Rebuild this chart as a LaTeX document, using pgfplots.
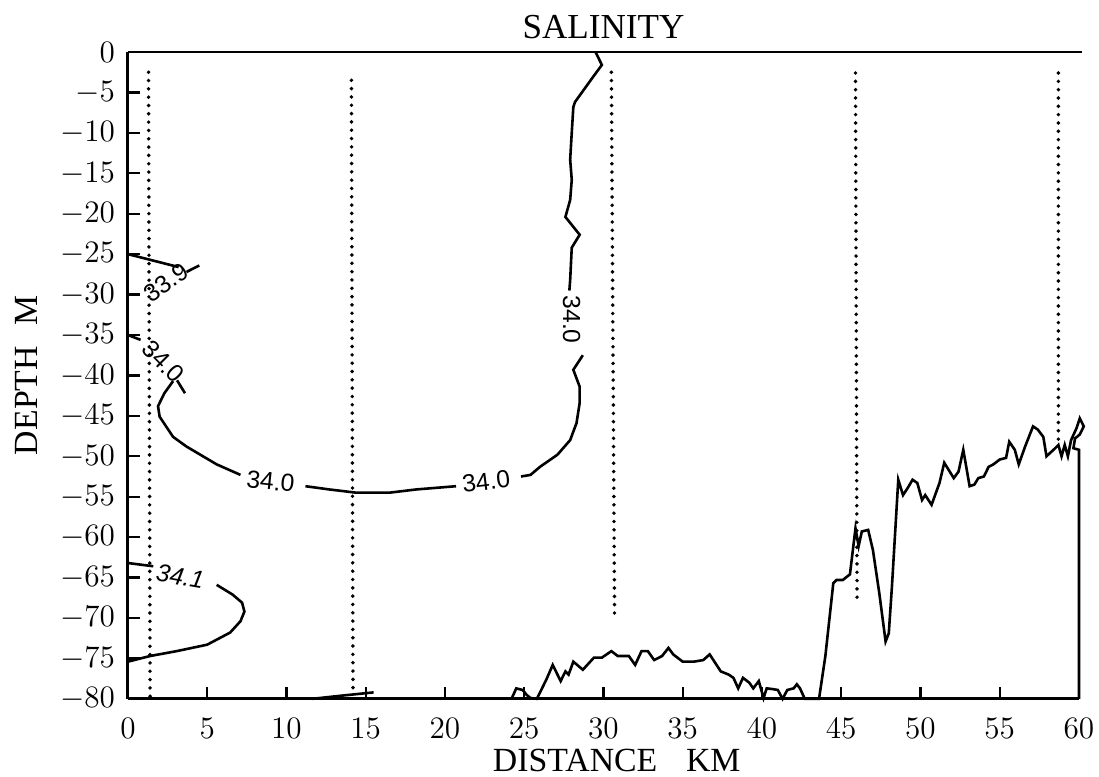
\documentclass[border=0pt]{standalone}
\usepackage{fontspec}
\setmainfont{Liberation Serif}
\newfontfamily\clabfont{Liberation Sans}
\usepackage{pgfplots}
\pgfplotsset{compat=1.18}

\tikzset{clab/.style={font=\clabfont\fontsize{9.5}{11}\selectfont, inner sep=0pt}}

\begin{document}
\begin{tikzpicture}
\path[use as bounding box] (-49.2pt,-30pt) rectangle (373.5pt,268.8pt);
\begin{axis}[
  scale only axis, width=365.8pt, height=248.8pt,
  xmin=0, xmax=60, ymin=-80, ymax=0,
  axis lines=left, axis line style={-, line width=1.1pt},
  clip=false,
  xtick={0,5,...,60}, ytick={-80,-75,...,0},
  tick align=inside, major tick length=4.6pt,
  tick style={line width=0.9pt, black},
  tick label style={font=\fontsize{11.5}{13}\selectfont},
  xticklabel style={yshift=-6.5pt, inner sep=1pt},
  yticklabel style={xshift=-1.5pt},
  title={SALINITY},
  title style={at={(axis description cs:0.5,0.9968)}, anchor=base, font=\fontsize{13.5}{16}\selectfont},
  xlabel={DISTANCE\hspace{0.85em}KM},
  xlabel style={at={(axis description cs:0.514,-0.1125)}, anchor=base, inner sep=1pt, font=\fontsize{13}{15}\selectfont},
  ylabel={DEPTH\hspace{0.6em}M},
  ylabel style={at={(axis description cs:-0.0946,0.5)}, anchor=base, rotate=0, font=\fontsize{13}{15}\selectfont},
]
% top frame line
\draw[line width=1.1pt] (axis cs:0,0) -- (axis cs:60.2,0);

% station lines
\addplot[black, line width=1.5pt, line cap=round, dash pattern=on 0pt off 3.2pt] coordinates {(1.3,-2.5) (1.4,-80)};
\addplot[black, line width=1.5pt, line cap=round, dash pattern=on 0pt off 3.2pt] coordinates {(14.1,-3.5) (14.2,-79)};
\addplot[black, line width=1.5pt, line cap=round, dash pattern=on 0pt off 3.2pt] coordinates {(30.5,-2.5) (30.7,-69.6)};
\addplot[black, line width=1.5pt, line cap=round, dash pattern=on 0pt off 3.2pt] coordinates {(45.9,-2.6) (46.0,-67.7)};
\addplot[black, line width=1.5pt, line cap=round, dash pattern=on 0pt off 3.2pt] coordinates {(58.7,-2.6) (58.7,-48)};

% 34.0 contour
\addplot[black, line width=1pt] coordinates {
(29.5,0) (29.9,-1.6) (29.3,-3.2) (28.2,-6.2) (28.1,-6.8) (28.0,-10) (27.9,-13.3)
(28.0,-15.8) (27.9,-18.3) (27.6,-20.4) (28.5,-22.6) (28.0,-24.2) (27.9,-28.2) (27.85,-29.5)};
\addplot[black, line width=1pt] coordinates {
(28.7,-37.5) (28.1,-39.3) (28.5,-41.4) (28.5,-43.4) (28.3,-45.9) (27.9,-48) (27.1,-49.8)
(26.0,-51.3) (25.4,-52.3) (24.8,-52.5)};
\addplot[black, line width=1pt] coordinates {
(20.7,-53.7) (18.2,-54.1) (16.5,-54.5) (14.4,-54.5) (12.7,-54.1) (11.2,-53.7)};
\addplot[black, line width=1pt] coordinates {
(7.1,-52.3) (5.6,-51.0) (3.7,-48.8) (2.85,-47.6) (2.0,-45.1) (1.9,-43.8) (2.3,-42.2) (2.85,-40.7)};
\addplot[black, line width=1pt] coordinates {(3.1,-40.6) (3.6,-42.2)};
\addplot[black, line width=1pt] coordinates {(0,-35.0) (0.8,-35.6)};

% 33.9 contour
\addplot[black, line width=1pt] coordinates {(0,-25.0) (1.6,-25.8) (3.2,-26.6)};
\addplot[black, line width=1pt] coordinates {(3.7,-27.2) (4.5,-26.4)};

% 34.1 contour
\addplot[black, line width=1pt] coordinates {(0,-63.2) (1.6,-63.6)};
\addplot[black, line width=1pt] coordinates {
(5.6,-65.9) (6.6,-67.1) (7.2,-68.1) (7.35,-69.2) (7.1,-70.4) (6.45,-71.8) (5.0,-73.3)
(3.07,-74.1) (1.4,-74.7) (0,-75.4)};

% contour near bottom
\addplot[black, line width=1pt] coordinates {(11.6,-80) (13.5,-79.6) (15.5,-79.2)};

% bottom profile
\addplot[black, line width=1pt] coordinates {
(24.2,-80) (24.5,-78.7) (24.9,-78.9) (25.15,-79.5) (25.4,-79.9) (25.8,-80)
(26.4,-77.6) (26.8,-75.8) (27.3,-77.8) (27.6,-76.6) (27.8,-77) (28.1,-75.4) (28.7,-76.4)
(29.4,-74.9) (29.9,-74.9) (30.5,-74.1) (30.9,-74.7) (31.6,-74.7) (32.0,-75.8) (32.4,-74.1)
(32.8,-74.1) (33.2,-75.2) (33.7,-74.7) (34.1,-73.7) (34.4,-74.5) (35.0,-75.4) (35.7,-75.4)
(36.3,-75.2) (36.7,-74.5) (37.0,-75.4) (37.4,-76.6) (37.9,-77.0) (38.2,-77.4) (38.5,-78.7)
(38.8,-77.4) (39.2,-78.0) (39.45,-78.7) (39.8,-77.8) (40.1,-79.9) (40.3,-78.7) (40.7,-78.8)
(41.0,-78.9) (41.3,-80) (41.6,-78.9) (42.0,-78.7) (42.2,-78.2) (42.4,-78.7) (42.7,-80)
(43.6,-80) (44.0,-74.7) (44.5,-65.7) (44.7,-65.3) (45.1,-65.3) (45.55,-64.6) (45.9,-58.9)
(46.1,-61.1) (46.3,-59.3) (46.7,-59.1) (47.0,-61.6) (47.4,-66.9) (47.8,-72.9) (48.0,-71.9)
(48.2,-66.1) (48.6,-52.9) (48.9,-54.8) (49.2,-53.9) (49.5,-52.9) (49.8,-53.3) (50.1,-55.4)
(50.3,-54.8) (50.7,-56) (51.2,-53.3) (51.5,-50.8) (52.1,-52.7) (52.4,-51.9) (52.7,-49.2)
(53.1,-53.7) (53.4,-53.5) (53.65,-52.7) (54.0,-52.5) (54.3,-51.3) (54.6,-51.0) (55.0,-50.4)
(55.4,-50.2) (55.6,-48.2) (55.95,-49.2) (56.2,-51.0) (56.6,-48.8) (57.1,-46.3) (57.4,-46.7)
(57.75,-47.6) (57.95,-50.0) (58.5,-49.0) (58.7,-48.6) (58.9,-50.0) (59.1,-48.6) (59.3,-50.0)
(59.5,-48.0) (59.85,-46.5) (60.05,-45.3) (60.3,-46.3) (60.05,-47.3) (59.75,-47.8) (59.65,-49.0)
(60.0,-49.2) (60.0,-80)};

% contour labels
\node[clab, rotate=-90] at (axis cs:28.0,-33.1) {34.0};
\node[clab, rotate=7] at (axis cs:22.6,-53.1) {34.0};
\node[clab, rotate=-6] at (axis cs:9.0,-53.1) {34.0};
\node[clab, rotate=-45] at (axis cs:2.25,-38.3) {34.0};
\node[clab, rotate=35] at (axis cs:2.4,-28.5) {33.9};
\node[clab, rotate=-10] at (axis cs:3.3,-64.9) {\itshape 34.1};
\end{axis}
\end{tikzpicture}
\end{document}
